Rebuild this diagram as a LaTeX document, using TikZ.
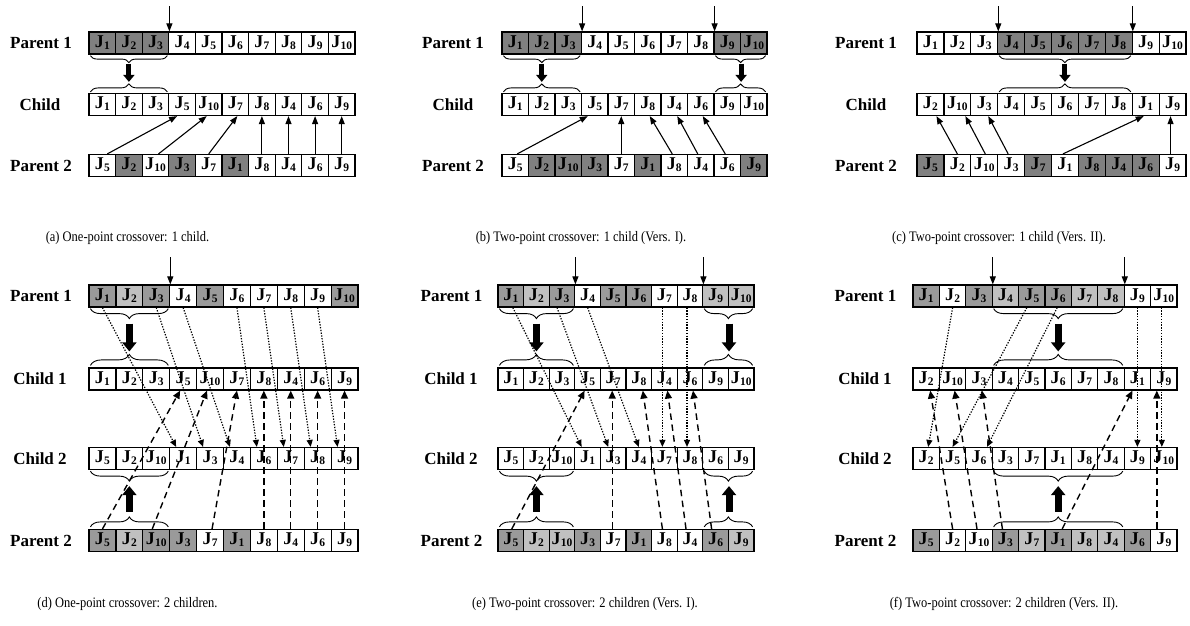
\documentclass[tikz,border=0pt]{standalone}
\usepackage{fontspec}
\setmainfont{Liberation Serif}
\usetikzlibrary{arrows.meta,decorations.pathreplacing,calc}

\definecolor{cs}{HTML}{808080}
\definecolor{cd}{HTML}{9A9A9A}
\definecolor{cl}{HTML}{C0C0C0}

% a job J with its index as subscript
\newcommand{\gene}[1]{J\kern0.2pt\raisebox{-2pt}{\fontsize{11.5}{11.5}\selectfont #1}}

% one chromosome: name prefix, left x, centre y, cell width, list of job/fill
\newcommand{\chrom}[5]{%
  \foreach \g/\f [count=\k] in {#5} {
    \node[cell=#4, fill=\f] (#1-\k) at ({#2+(\k-0.5)*#4}, #3) {\gene{\g}};
  }%
}

\tikzset{
  cell/.style={draw, line width=1.2pt, minimum width=#1, minimum height=22pt,
    inner sep=0pt, text height=12pt, text depth=4pt,
    font=\fontsize{18}{18}\selectfont\bfseries},
  lab/.style={font=\fontsize{17}{17}\selectfont\bfseries},
  capt/.style={font=\fontsize{14.5}{16}\selectfont, xscale=0.86},
  solidarr/.style={line width=1.1pt, -{Triangle[length=8pt,width=6pt]}},
  cutarr/.style={line width=1.1pt, -{Triangle[length=8pt,width=6pt]}},
  dotarr/.style={line width=1.2pt, dash pattern=on 1.3pt off 1.5pt, -{Triangle[length=7pt,width=6pt]}},
  dasharr/.style={line width=1.4pt, dash pattern=on 6.5pt off 4.5pt, -{Triangle[length=8pt,width=7pt]}},
  bigarr/.style={line width=5pt, -{Triangle[length=7pt,width=11pt]}},
  bigarrw/.style={line width=7pt, -{Triangle[length=9pt,width=14pt]}},
  brc/.style={decorate, decoration={brace, amplitude=#1}, line width=0.9pt},
}

\begin{document}
\begin{tikzpicture}[x=1pt, y=-1pt]
\useasboundingbox[fill=white] (0,0) rectangle (1190,625);

% ---------------- (a) one-point, one child ----------------
\node[lab] (a-l1) at (41,43) {Parent 1};
\node[lab] (a-l2) at (40,104.5) {Child};
\node[lab] (a-l3) at (41,165.5) {Parent 2};
\chrom{a-p1}{89}{43}{26.6}{1/cs,2/cs,3/cs,4/white,5/white,6/white,7/white,8/white,9/white,10/white}
\chrom{a-c}{89}{104.5}{26.6}{1/white,2/white,3/white,5/white,10/white,7/white,8/white,4/white,6/white,9/white}
\chrom{a-p2}{89}{165.5}{26.6}{5/white,2/cs,10/white,3/cs,7/white,1/cs,8/white,4/white,6/white,9/white}
\draw[cutarr] ($(a-p1-3.north east)+(0,-25)$) -- (a-p1-3.north east);
\draw[brc=7pt] ($(a-p1-3.south east)+(-2,1)$) -- ($(a-p1-1.south west)+(2,1)$);
\draw[bigarr] ($(a-p1-2.south)+(0,9)$) -- ($(a-c-2.north)+(0,-11)$);
\draw[brc=8pt] ($(a-c-1.north west)+(2,-1)$) -- ($(a-c-3.north east)+(-2,-1)$);
\foreach \i/\j/\s/\e in {1/4/5/-5, 3/5/3/-2, 5/6/0/2, 7/7/0/0, 8/8/0/0, 9/9/0/0, 10/10/0/0}
  \draw[solidarr] ([xshift=\s pt]a-p2-\i.north) -- ([xshift=\e pt]a-c-\j.south);
\node[capt] (a-cap) at (127.5,238) {(a) One-point crossover: 1 child.};

% ---------------- (b) two-point, one child, version I ----------------
\node[lab] (b-l1) at (453,43) {Parent 1};
\node[lab] (b-l2) at (453,104.5) {Child};
\node[lab] (b-l3) at (453,165.5) {Parent 2};
\chrom{b-p1}{502}{43}{26.5}{1/cs,2/cs,3/cs,4/white,5/white,6/white,7/white,8/white,9/cs,10/cs}
\chrom{b-c}{502}{104.5}{26.5}{1/white,2/white,3/white,5/white,7/white,8/white,4/white,6/white,9/white,10/white}
\chrom{b-p2}{502}{165.5}{26.5}{5/white,2/cs,10/cs,3/cs,7/white,1/cs,8/white,4/white,6/white,9/cs}
\draw[cutarr] ($(b-p1-3.north east)+(0,-25)$) -- (b-p1-3.north east);
\draw[cutarr] ($(b-p1-8.north east)+(0,-25)$) -- (b-p1-8.north east);
\draw[brc=7pt] ($(b-p1-3.south east)+(-2,1)$) -- ($(b-p1-1.south west)+(2,1)$);
\draw[brc=7pt] ($(b-p1-10.south east)+(-2,1)$) -- ($(b-p1-9.south west)+(2,1)$);
\draw[bigarr] ($(b-p1-2.south)+(0,9)$) -- ($(b-c-2.north)+(0,-11)$);
\draw[bigarr] ($(b-p1-9.south east)+(0,9)$) -- ($(b-c-9.north east)+(0,-11)$);
\draw[brc=8pt] ($(b-c-1.north west)+(2,-1)$) -- ($(b-c-3.north east)+(-2,-1)$);
\draw[brc=8pt] ($(b-c-9.north west)+(2,-1)$) -- ($(b-c-10.north east)+(-2,-1)$);
\foreach \i/\j/\s/\e in {1/4/2/-7, 5/5/0/0, 7/6/-2/2, 8/7/-3/3, 9/8/-2/2}
  \draw[solidarr] ([xshift=\s pt]b-p2-\i.north) -- ([xshift=\e pt]b-c-\j.south);
\node[capt] (b-cap) at (581,238) {(b) Two-point crossover: 1 child (Vers. I).};

% ---------------- (c) two-point, one child, version II ----------------
\node[lab] (c-l1) at (866,43) {Parent 1};
\node[lab] (c-l2) at (866,104.5) {Child};
\node[lab] (c-l3) at (866,165.5) {Parent 2};
\chrom{c-p1}{917}{43}{26.9}{1/white,2/white,3/white,4/cs,5/cs,6/cs,7/cs,8/cs,9/white,10/white}
\chrom{c-c}{917}{104.5}{26.9}{2/white,10/white,3/white,4/white,5/white,6/white,7/white,8/white,1/white,9/white}
\chrom{c-p2}{917}{165.5}{26.9}{5/cs,2/white,10/white,3/white,7/cs,1/white,8/cs,4/cs,6/cs,9/white}
\draw[cutarr] ($(c-p1-3.north east)+(0,-25)$) -- (c-p1-3.north east);
\draw[cutarr] ($(c-p1-8.north east)+(0,-25)$) -- (c-p1-8.north east);
\draw[brc=7pt] ($(c-p1-8.south east)+(-2,1)$) -- ($(c-p1-4.south west)+(2,1)$);
\draw[bigarr] ($(c-p1-6.south)+(0,9)$) -- ($(c-c-6.north)+(0,-11)$);
\draw[brc=8pt] ($(c-c-4.north west)+(2,-1)$) -- ($(c-c-8.north east)+(-2,-1)$);
\foreach \i/\j/\s/\e in {2/1/0/6, 3/2/1/8, 4/3/-3/4, 6/9/-2/-2, 10/10/-2/-2}
  \draw[solidarr] ([xshift=\s pt]c-p2-\i.north) -- ([xshift=\e pt]c-c-\j.south);
\node[capt] (c-cap) at (999,238) {(c) Two-point crossover: 1 child (Vers. II).};

% ---------------- (d) one-point, two children ----------------
\node[lab] (d-l1) at (41,296) {Parent 1};
\node[lab] (d-l2) at (40,379) {Child 1};
\node[lab] (d-l3) at (40,458.5) {Child 2};
\node[lab] (d-l4) at (41,540.5) {Parent 2};
\chrom{d-p1}{89}{296}{26.9}{1/cd,2/cl,3/cd,4/white,5/cd,6/white,7/white,8/white,9/white,10/cd}
\chrom{d-c1}{89}{379}{26.9}{1/white,2/white,3/white,5/white,10/white,7/white,8/white,4/white,6/white,9/white}
\chrom{d-c2}{89}{458.5}{26.9}{5/white,2/white,10/white,1/white,3/white,4/white,6/white,7/white,8/white,9/white}
\chrom{d-p2}{89}{540.5}{26.9}{5/cd,2/cl,10/cd,3/cd,7/white,1/cd,8/white,4/white,6/white,9/white}
\draw[cutarr] ($(d-p1-3.north east)+(0,-27)$) -- (d-p1-3.north east);
\draw[brc=10pt] ($(d-p1-3.south east)+(-2,1)$) -- ($(d-p1-1.south west)+(2,1)$);
\draw[bigarrw] ($(d-p1-2.south)+(0,16)$) -- ($(d-c1-2.north)+(0,-16)$);
\draw[brc=11pt] ($(d-c1-1.north west)+(2,-2)$) -- ($(d-c1-3.north east)+(-2,-2)$);
\draw[brc=10pt] ($(d-c2-3.south east)+(-2,1)$) -- ($(d-c2-1.south west)+(2,1)$);
\draw[bigarrw] ($(d-p2-2.north)+(0,-17)$) -- ($(d-c2-2.south)+(0,16)$);
\draw[brc=10pt] ($(d-p2-1.north west)+(2,-2)$) -- ($(d-p2-3.north east)+(-2,-2)$);
\foreach \i/\j in {1/4, 3/5, 4/6, 6/7, 7/8, 8/9, 9/10}
  \draw[dotarr] (d-p1-\i.south) -- ([xshift=-7pt]d-c2-\j.north);
\foreach \i/\j/\s/\e in {1/4/0/-3, 3/5/-4/-3, 5/6/2/0, 7/7/0/0, 8/8/0/0, 9/9/0/0, 10/10/0/0}
  \draw[dasharr] ([xshift=\s pt]d-p2-\i.north) -- ([xshift=\e pt]d-c1-\j.south);
\node[capt] (d-cap) at (127.5,604) {(d) One-point crossover: 2 children.};

% ---------------- (e) two-point, two children, version I ----------------
\node[lab] (e-l1) at (451.5,296) {Parent 1};
\node[lab] (e-l2) at (451,379) {Child 1};
\node[lab] (e-l3) at (451,458.5) {Child 2};
\node[lab] (e-l4) at (451.5,540.5) {Parent 2};
\chrom{e-p1}{498}{296}{25.6}{1/cd,2/cl,3/cd,4/white,5/cd,6/cd,7/white,8/white,9/cl,10/cl}
\chrom{e-c1}{498}{379}{25.6}{1/white,2/white,3/white,5/white,7/white,8/white,4/white,6/white,9/white,10/white}
\chrom{e-c2}{498}{458.5}{25.6}{5/white,2/white,10/white,1/white,3/white,4/white,7/white,8/white,6/white,9/white}
\chrom{e-p2}{498}{540.5}{25.6}{5/cd,2/cl,10/cl,3/cd,7/white,1/cd,8/white,4/white,6/cd,9/cl}
\draw[cutarr] ($(e-p1-3.north east)+(0,-27)$) -- (e-p1-3.north east);
\draw[cutarr] ($(e-p1-8.north east)+(0,-27)$) -- (e-p1-8.north east);
\draw[brc=10pt] ($(e-p1-3.south east)+(-2,1)$) -- ($(e-p1-1.south west)+(2,1)$);
\draw[brc=10pt] ($(e-p1-10.south east)+(-2,1)$) -- ($(e-p1-9.south west)+(2,1)$);
\draw[bigarrw] ($(e-p1-2.south)+(0,16)$) -- ($(e-c1-2.north)+(0,-16)$);
\draw[bigarrw] ($(e-p1-9.south east)+(0,16)$) -- ($(e-c1-9.north east)+(0,-16)$);
\draw[brc=11pt] ($(e-c1-1.north west)+(2,-2)$) -- ($(e-c1-3.north east)+(-2,-2)$);
\draw[brc=11pt] ($(e-c1-9.north west)+(2,-2)$) -- ($(e-c1-10.north east)+(-2,-2)$);
\draw[brc=10pt] ($(e-c2-3.south east)+(-2,1)$) -- ($(e-c2-1.south west)+(2,1)$);
\draw[brc=10pt] ($(e-c2-10.south east)+(-2,1)$) -- ($(e-c2-9.south west)+(2,1)$);
\draw[bigarrw] ($(e-p2-2.north)+(0,-17)$) -- ($(e-c2-2.south)+(0,16)$);
\draw[bigarrw] ($(e-p2-9.north east)+(0,-17)$) -- ($(e-c2-9.south east)+(0,16)$);
\draw[brc=10pt] ($(e-p2-1.north west)+(2,-2)$) -- ($(e-p2-3.north east)+(-2,-2)$);
\draw[brc=10pt] ($(e-p2-9.north west)+(2,-2)$) -- ($(e-p2-10.north east)+(-2,-2)$);
\foreach \i/\j/\s/\e in {1/4/2/-6, 3/5/-5/-5, 4/6/0/0, 7/7/-2/-2, 8/8/-3/-3}
  \draw[dotarr] ([xshift=\s pt]e-p1-\i.south) -- ([xshift=\e pt]e-c2-\j.north);
\foreach \i/\j/\s/\e in {1/4/1/-3, 5/5/-1/-1, 7/6/-2/4, 8/7/-4/3, 9/8/-4/3}
  \draw[dasharr] ([xshift=\s pt]e-p2-\i.north) -- ([xshift=\e pt]e-c1-\j.south);
\node[capt] (e-cap) at (585,604) {(e) Two-point crossover: 2 children (Vers. I).};

% ---------------- (f) two-point, two children, version II ----------------
\node[lab] (f-l1) at (865.5,296) {Parent 1};
\node[lab] (f-l2) at (865,379) {Child 1};
\node[lab] (f-l3) at (865,458.5) {Child 2};
\node[lab] (f-l4) at (865.5,540.5) {Parent 2};
\chrom{f-p1}{913}{296}{26.4}{1/cd,2/white,3/cd,4/cl,5/cd,6/cd,7/cl,8/cl,9/white,10/white}
\chrom{f-c1}{913}{379}{26.4}{2/white,10/white,3/white,4/white,5/white,6/white,7/white,8/white,1/white,9/white}
\chrom{f-c2}{913}{458.5}{26.4}{2/white,5/white,6/white,3/white,7/white,1/white,8/white,4/white,9/white,10/white}
\chrom{f-p2}{913}{540.5}{26.4}{5/cd,2/white,10/white,3/cd,7/cl,1/cd,8/cl,4/cl,6/cd,9/white}
\draw[cutarr] ($(f-p1-3.north east)+(0,-27)$) -- (f-p1-3.north east);
\draw[cutarr] ($(f-p1-8.north east)+(0,-27)$) -- (f-p1-8.north east);
\draw[brc=10pt] ($(f-p1-8.south east)+(-2,1)$) -- ($(f-p1-4.south west)+(2,1)$);
\draw[bigarrw] ($(f-p1-6.south)+(0,16)$) -- ($(f-c1-6.north)+(0,-16)$);
\draw[brc=11pt] ($(f-c1-4.north west)+(2,-2)$) -- ($(f-c1-8.north east)+(-2,-2)$);
\draw[brc=10pt] ($(f-c2-8.south east)+(-2,1)$) -- ($(f-c2-4.south west)+(2,1)$);
\draw[bigarrw] ($(f-p2-6.north)+(0,-17)$) -- ($(f-c2-6.south)+(0,16)$);
\draw[brc=10pt] ($(f-p2-4.north west)+(2,-2)$) -- ($(f-p2-8.north east)+(-2,-2)$);
\foreach \i/\j/\s/\e in {2/1/0/2, 5/2/-5/0, 6/3/-1/8, 9/9/0/0, 10/10/-2/-2}
  \draw[dotarr] ([xshift=\s pt]f-p1-\i.south) -- ([xshift=\e pt]f-c2-\j.north);
\foreach \i/\j/\s/\e in {2/1/0/4, 3/2/-2/2, 4/3/-3/3, 6/9/4/-5, 10/10/-7/-7}
  \draw[dasharr] ([xshift=\s pt]f-p2-\i.north) -- ([xshift=\e pt]f-c1-\j.south);
\node[capt] (f-cap) at (1004,604) {(f) Two-point crossover: 2 children (Vers. II).};
\end{tikzpicture}
\end{document}
